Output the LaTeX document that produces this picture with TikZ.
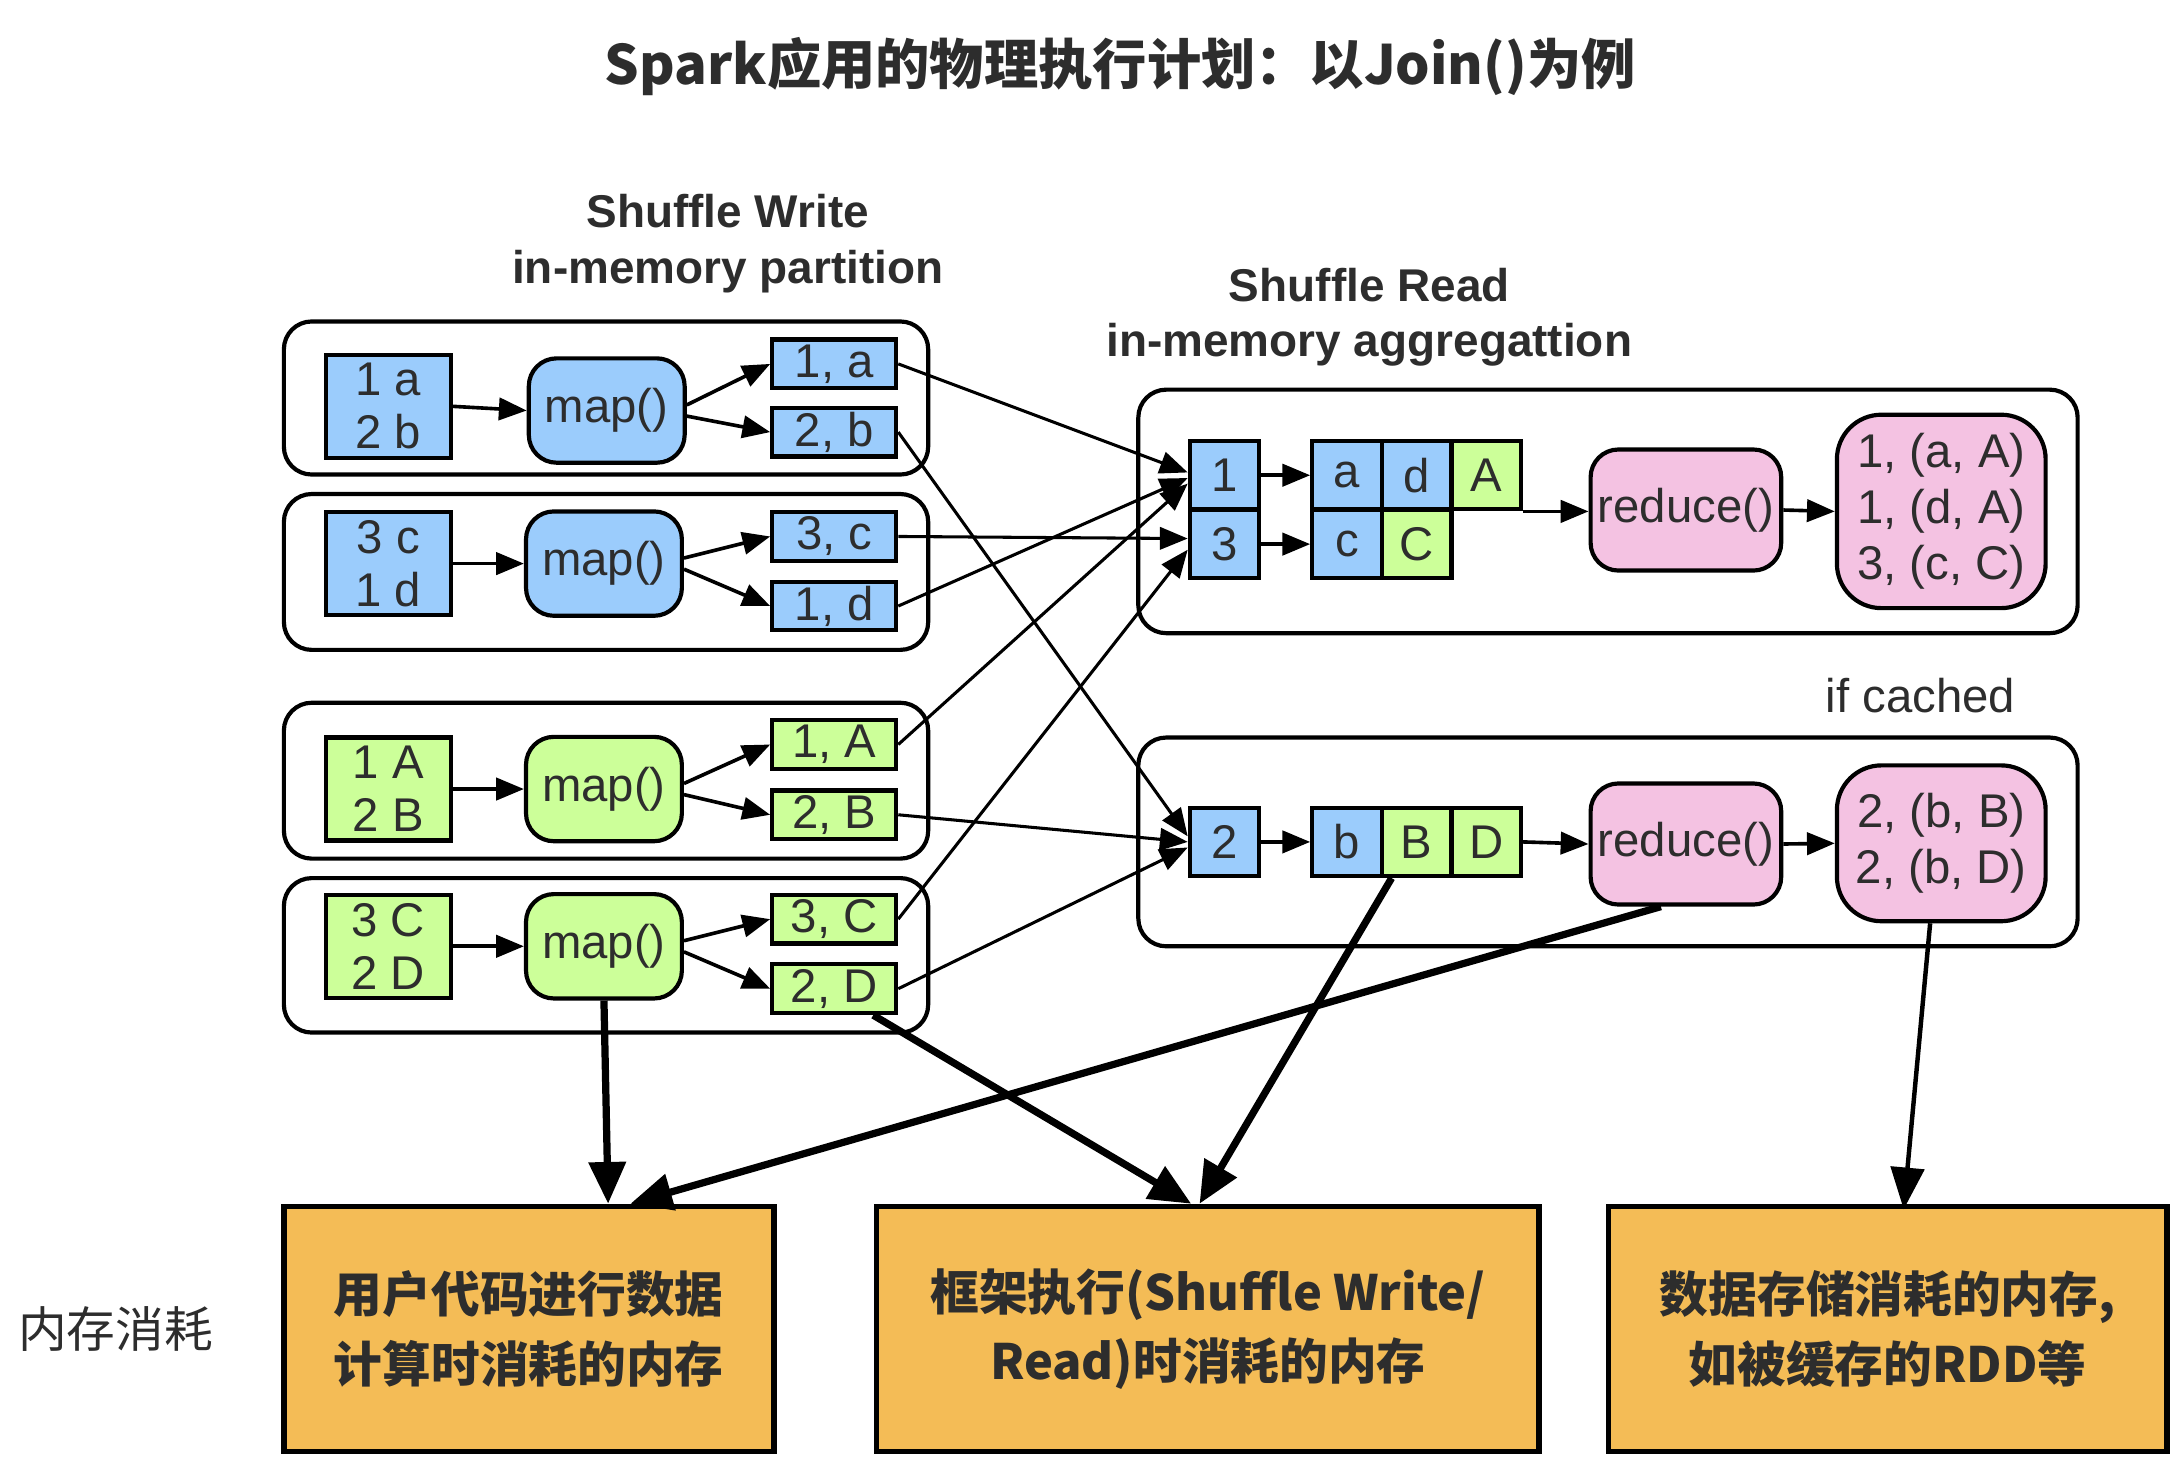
\documentclass[tikz,border=0pt]{standalone}
\usepackage{fontspec}
\setmainfont{Liberation Sans}
\newfontfamily\cjk{Noto Sans CJK SC}
\usetikzlibrary{arrows.meta}
\definecolor{cblue}{RGB}{155,204,252}
\definecolor{cgreen}{RGB}{204,255,153}
\definecolor{cpink}{RGB}{244,194,226}
\definecolor{corange}{RGB}{244,188,86}
\definecolor{txt}{RGB}{45,45,45}
\tikzset{
  every node/.style={text=txt, font=\fontsize{17}{19}\selectfont},
  part/.style={draw=black, line width=1.5pt, rounded corners=10pt, minimum width=231.5pt, fill=white},
  cellbase/.style={draw=black, line width=1.5pt, inner sep=0pt, align=center},
  bcell/.style={cellbase, fill=cblue},
  gcell/.style={cellbase, fill=cgreen},
  inbox/.style={minimum width=45pt, minimum height=37pt},
  outbox/.style={minimum width=44.5pt, minimum height=17.5pt},
  sq/.style={minimum width=25pt, minimum height=24.5pt},
  mapnode/.style={draw=black, line width=1.5pt, rounded corners=10pt, minimum width=56pt, minimum height=37.5pt, inner sep=0pt},
  rednode/.style={draw=black, line width=1.5pt, rounded corners=10pt, fill=cpink, minimum width=68.5pt, minimum height=43.5pt, inner sep=0pt},
  resnode/.style={draw=black, line width=1.5pt, rounded corners=16pt, fill=cpink, minimum width=75pt, inner sep=0pt, align=center, font=\fontsize{17}{20}\selectfont},
  memnode/.style={draw=black, line width=2pt, fill=corange, minimum height=88pt, inner sep=0pt, align=center, font=\cjk\bfseries\fontsize{17.5}{25}\selectfont},
  arr/.style={line width=1.3pt, -{Triangle[length=10pt,width=8pt]}},
  sarr/.style={line width=1.1pt, -{Triangle[length=10pt,width=8pt]}},
  tarr/.style={line width=2.6pt, -{Triangle[length=15pt,width=13pt]}},
  marr/.style={line width=1.6pt, -{Triangle[length=15pt,width=12pt]}},
}
\begin{document}
\begin{tikzpicture}[x=0.5pt,y=-0.5pt]
\useasboundingbox (0,0) rectangle (1568,1050);
% title
\node (title) at (805,48) {\cjk\bfseries\fontsize{19.5}{22}\selectfont Spark应用的物理执行计划：以Join()为例};
\node[align=center, font=\bfseries\fontsize{16.5}{20}\selectfont] (swlab) at (523,175) {Shuffle Write\\in-memory partition};
\node[align=center, font=\bfseries\fontsize{16.5}{20}\selectfont] (srlab) at (984,228) {Shuffle Read\\in-memory aggregattion};
% left partitions
\node[part, minimum height=55pt] (p1) at (435.5,286) {};
\node[part, minimum height=56pt] (p2) at (435.5,411) {};
\node[part, minimum height=56pt] (p3) at (435.5,561) {};
\node[part, minimum height=55.5pt] (p4) at (435.5,686.5) {};
% partition 1
\node[bcell, inbox, font=\fontsize{17}{19}\selectfont] (in1) at (279,292) {1 a\\2 b};
\node[mapnode, fill=cblue] (m1) at (436,295) {map()};
\node[bcell, outbox] (o1a) at (599.5,261.5) {1, a};
\node[bcell, outbox] (o2b) at (599.5,310.5) {2, b};
% partition 2
\node[bcell, inbox] (in2) at (279,405) {3 c\\1 d};
\node[mapnode, fill=cblue] (m2) at (434,405) {map()};
\node[bcell, outbox] (o3c) at (599.5,385.5) {3, c};
\node[bcell, outbox] (o1d) at (599.5,435.5) {1, d};
% partition 3
\node[gcell, inbox] (in3) at (279,567) {1 A\\2 B};
\node[mapnode, fill=cgreen] (m3) at (434,567) {map()};
\node[gcell, outbox] (o1A) at (599.5,535) {1, A};
\node[gcell, outbox] (o2B) at (599.5,585.5) {2, B};
% partition 4
\node[gcell, inbox] (in4) at (279,680) {3 C\\2 D};
\node[mapnode, fill=cgreen] (m4) at (434,680) {map()};
\node[gcell, outbox] (o3C) at (599.5,660.5) {3, C};
\node[gcell, outbox] (o2D) at (599.5,710.5) {2, D};
% internal arrows
\foreach \i/\a/\b in {1/o1a/o2b,2/o3c/o1d,3/o1A/o2B,4/o3C/o2D}{
  \draw[arr] (in\i.east) -- (m\i.west);
  \draw[arr] ([yshift=2pt]m\i.east) -- (\a.west);
  \draw[arr] ([yshift=-2pt]m\i.east) -- (\b.west);
}
% right groups
\node[part, minimum width=337.5pt, minimum height=87.5pt] (r1) at (1155.5,367.5) {};
\node[part, minimum width=337.5pt, minimum height=75pt] (r2) at (1155.5,605) {};
\node (cached) at (1380,500) {if cached};
% group 1
\node[bcell, sq] (k1) at (880,341.5) {1};
\node[bcell, sq] (k3) at (880,391) {3};
\node[bcell, sq] (va) at (968,341.5) {a};
\node[bcell, sq] (vd) at (1018,341.5) {d};
\node[gcell, sq] (vA) at (1068,341.5) {A};
\node[bcell, sq] (vc) at (968,391) {c};
\node[gcell, sq] (vC) at (1018,391) {C};
\node[rednode] (red1) at (1211.5,366.5) {reduce()};
\node[resnode, minimum height=69.5pt] (res1) at (1395,367.5) {1, (a, A)\\1, (d, A)\\3, (c, C)};
\draw[arr] (k1.east) -- (va.west);
\draw[arr] (k3.east) -- (vc.west);
\draw[arr] (vA.south east) -- (red1.west |- vA.south east);
\draw[arr] (red1.east) -- (res1.west);
% group 2
\node[bcell, sq] (k2) at (880,605) {2};
\node[bcell, sq] (vb) at (968,605) {b};
\node[gcell, sq] (vB) at (1018,605) {B};
\node[gcell, sq] (vD) at (1068,605) {D};
\node[rednode] (red2) at (1211.5,606.5) {reduce()};
\node[resnode, minimum height=56pt] (res2) at (1395,606) {2, (b, B)\\2, (b, D)};
\draw[arr] (k2.east) -- (vb.west);
\draw[arr] (vD.east) -- (red2.west);
\draw[arr] (red2.east) -- (res2.west);
% shuffle connectors
\draw[sarr] (o1a.east) -- ([yshift=1pt]k1.west);
\draw[sarr] (o1d.east) -- ([yshift=-1pt]k1.west);
\draw[sarr] (o1A.east) -- ([yshift=-3pt]k1.west);
\draw[sarr] (o3c.east) -- ([yshift=2pt]k3.west);
\draw[sarr] (o3C.east) -- ([yshift=-2pt]k3.west);
\draw[sarr] (o2b.east) -- ([yshift=2pt]k2.west);
\draw[sarr] (o2B.east) -- (k2.west);
\draw[sarr] (o2D.east) -- ([yshift=-2pt]k2.west);
% memory boxes
\node[memnode, minimum width=176pt] (mem1) at (380,955) {用户代码进行数据\\计算时消耗的内存};
\node[memnode, minimum width=238pt] (mem2) at (868,955) {框架执行(Shuffle Write/\\Read)时消耗的内存};
\node[memnode, minimum width=200.5pt] (mem3) at (1356.5,955) {数据存储消耗的内存,\\如被缓存的RDD等};
\node[font=\cjk\fontsize{17.5}{20}\selectfont] (memlab) at (83,955) {内存消耗};
% memory arrows
\draw[tarr] (m4.south) -- ([xshift=-2pt]mem1.north -| 441,0);
\draw[tarr] ([xshift=-9pt]red2.south) -- (mem1.north -| 453,0);
\draw[tarr] ([xshift=14pt]o2D.south) -- (mem2.north -| 856,0);
\draw[tarr] (vB.south -| 1000,0) -- (mem2.north -| 862,0);
\draw[marr] ([xshift=-4pt]res2.south) -- ([yshift=-2pt]mem3.north -| 1368,0);
\end{tikzpicture}
\end{document}
